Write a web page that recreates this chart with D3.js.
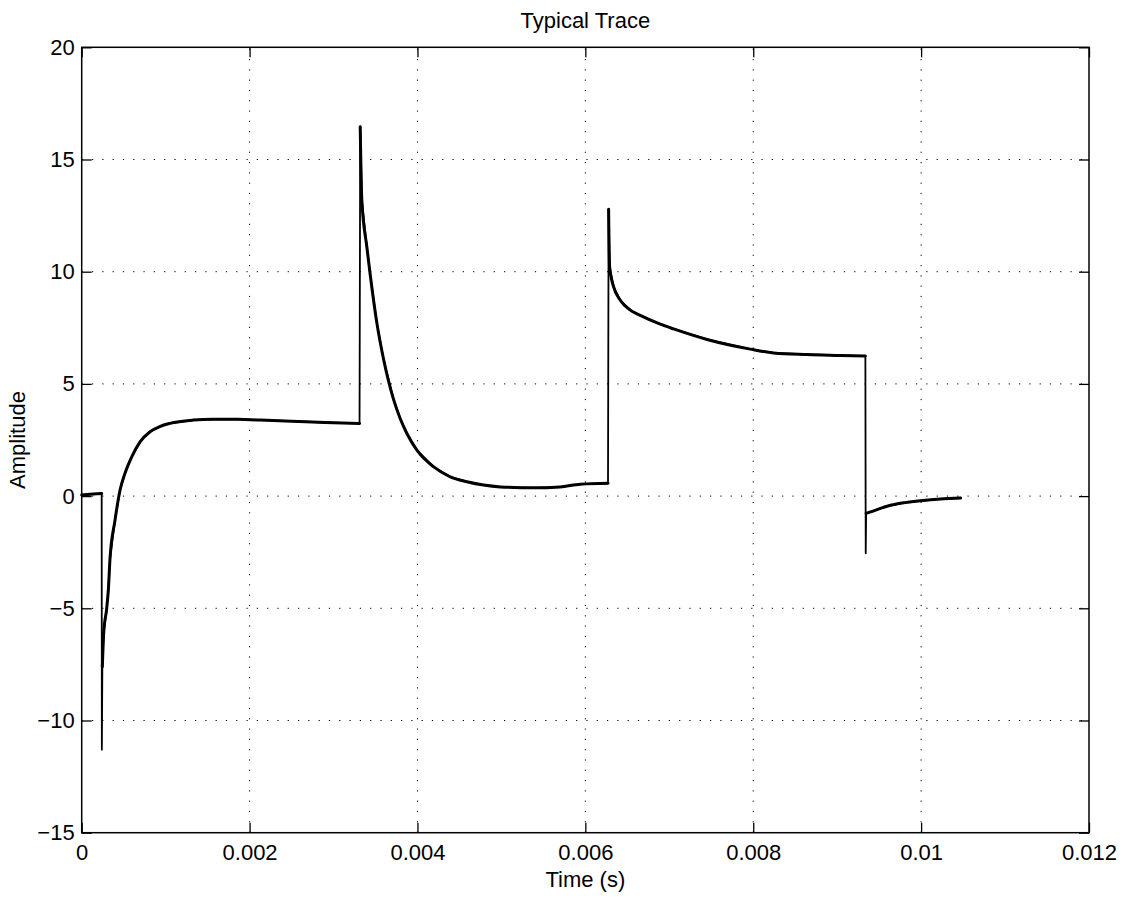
<!DOCTYPE html>
<html><head><meta charset="utf-8">
<script src="https://cdn.jsdelivr.net/npm/d3@7"></script>
<style>
html,body{margin:0;padding:0;background:#fff;}
svg text{font-family:"Liberation Sans",Arial,Helvetica,sans-serif;fill:#000;}
</style></head>
<body><svg id="chart" width="1126" height="899"></svg>
<script>
const title = "Typical Trace";
const xLabel = "Time (s)";
const yLabel = "Amplitude";
const xTicks = [0, 0.002, 0.004, 0.006, 0.008, 0.01, 0.012];
const xTickLabels = ["0", "0.002", "0.004", "0.006", "0.008", "0.01", "0.012"];
const yTicks = [-15, -10, -5, 0, 5, 10, 15, 20];
const yTickLabels = ["\u221215", "\u221210", "\u22125", "0", "5", "10", "15", "20"];

const time = [0, 0.0001, 0.000238, 0.000240, 0.000246, 0.000262, 0.000298, 0.000317, 0.000337, 0.000397,
  0.000457, 0.000516, 0.000596, 0.000695, 0.000814, 0.00093, 0.00105, 0.00133, 0.00156, 0.00185,
  0.00213, 0.0025, 0.0029, 0.00331, 0.003318, 0.003337, 0.003397, 0.003436, 0.003516, 0.003595,
  0.003714, 0.003794, 0.003874, 0.003993, 0.00419, 0.00439, 0.004589, 0.004787, 0.004986, 0.005383,
  0.0057, 0.00594, 0.00627, 0.006277, 0.006289, 0.006336, 0.006416, 0.006535, 0.006654, 0.006893,
  0.007051, 0.00745, 0.007965, 0.008243, 0.008641, 0.009038, 0.009336, 0.00934, 0.009345, 0.0094,
  0.009595, 0.009793, 0.00999, 0.01023, 0.01047];
const amplitude = [0.05, 0.08, 0.12, -11.3, -7.6, -6.1, -5.0, -4.2, -2.8, -1.07,
  0.27, 1.02, 1.75, 2.42, 2.87, 3.1, 3.24, 3.39, 3.43, 3.42,
  3.39, 3.34, 3.28, 3.24, 16.46, 13.2, 11.1, 9.9, 7.72, 6.12,
  4.32, 3.46, 2.79, 2.05, 1.31, 0.86, 0.64, 0.49, 0.41, 0.37,
  0.41, 0.53, 0.57, 12.78, 10.22, 9.33, 8.73, 8.29, 8.05, 7.66,
  7.45, 6.98, 6.55, 6.38, 6.31, 6.27, 6.24, -2.55, -0.77, -0.70,
  -0.45, -0.30, -0.21, -0.13, -0.09];

const L = 81.7, T = 47.3, R = 1089, B = 832.7;
const FS = "22px";
const svg = d3.select("#chart");
const x = d3.scaleLinear().domain([0, 0.012]).range([L, R]);
const y = d3.scaleLinear().domain([-15, 20]).range([B, T]);

// grid
const grid = svg.append("g").attr("stroke", "#000").attr("stroke-width", 1).attr("stroke-dasharray", "1.2,9.1");
xTicks.filter(t => t > 0 && t < 0.012).forEach(t => {
  grid.append("line").attr("x1", x(t)).attr("x2", x(t)).attr("y1", B).attr("y2", T);
});
yTicks.filter(t => t > -15 && t < 20).forEach(t => {
  grid.append("line").attr("x1", L).attr("x2", R).attr("y1", y(t)).attr("y2", y(t));
});

// axes (ticks inside, mirrored)
const tl = 10;
const fmtX = (d, i) => xTickLabels[i];
const fmtY = (d, i) => yTickLabels[i];
function style(g){
  g.attr("font-size", FS).attr("font-family", "Liberation Sans, Arial, sans-serif");
  g.select(".domain").remove();
  g.selectAll("line").attr("stroke","#000").attr("stroke-width",1.3);
  g.selectAll("text").attr("fill","#000");
}
svg.append("g").attr("transform", `translate(0,${B})`)
  .call(d3.axisBottom(x).tickValues(xTicks).tickFormat(fmtX).tickSizeInner(-tl).tickSizeOuter(0).tickPadding(12))
  .call(style);
svg.append("g").attr("transform", `translate(0,${T})`)
  .call(d3.axisTop(x).tickValues(xTicks).tickFormat("").tickSizeInner(-tl).tickSizeOuter(0))
  .call(style);
svg.append("g").attr("transform", `translate(${L},0)`)
  .call(d3.axisLeft(y).tickValues(yTicks).tickFormat(fmtY).tickSizeInner(-tl).tickSizeOuter(0).tickPadding(7))
  .call(style);
svg.append("g").attr("transform", `translate(${R},0)`)
  .call(d3.axisRight(y).tickValues(yTicks).tickFormat("").tickSizeInner(-tl).tickSizeOuter(0))
  .call(style);

// frame
svg.append("rect").attr("x", L).attr("y", T).attr("width", R - L).attr("height", B - T)
  .attr("fill", "none").attr("stroke", "#000").attr("stroke-width", 1.5);

// trace: thin full path (jumps) + thick smooth segments
const data = time.map((t, i) => [t, amplitude[i]]);
svg.append("path").datum(data)
  .attr("fill", "none").attr("stroke", "#000").attr("stroke-width", 1.8).attr("stroke-linejoin", "round")
  .attr("d", d3.line().x(d => x(d[0])).y(d => y(d[1])));
const segs = [];
let cur = [data[0]];
for (let i = 1; i < data.length; i++) {
  if (data[i][0] - data[i - 1][0] < 1e-5) { segs.push(cur); cur = [data[i]]; }
  else cur.push(data[i]);
}
segs.push(cur);
const smooth = d3.line().x(d => x(d[0])).y(d => y(d[1])).curve(d3.curveMonotoneX);
segs.filter(s => s.length > 1).forEach(s => {
  svg.append("path").datum(s)
    .attr("fill", "none").attr("stroke", "#000").attr("stroke-width", 3).attr("stroke-linejoin", "round").attr("stroke-linecap", "round")
    .attr("d", smooth);
});

// texts
svg.append("text").attr("x", (L + R) / 2).attr("y", 28).attr("text-anchor", "middle").attr("font-size", FS).text(title);
svg.append("text").attr("x", (L + R) / 2).attr("y", 887).attr("text-anchor", "middle").attr("font-size", FS).text(xLabel);
svg.append("text").attr("transform", `translate(25,${(T + B) / 2}) rotate(-90)`).attr("text-anchor", "middle").attr("font-size", FS).text(yLabel);
</script></body></html>
